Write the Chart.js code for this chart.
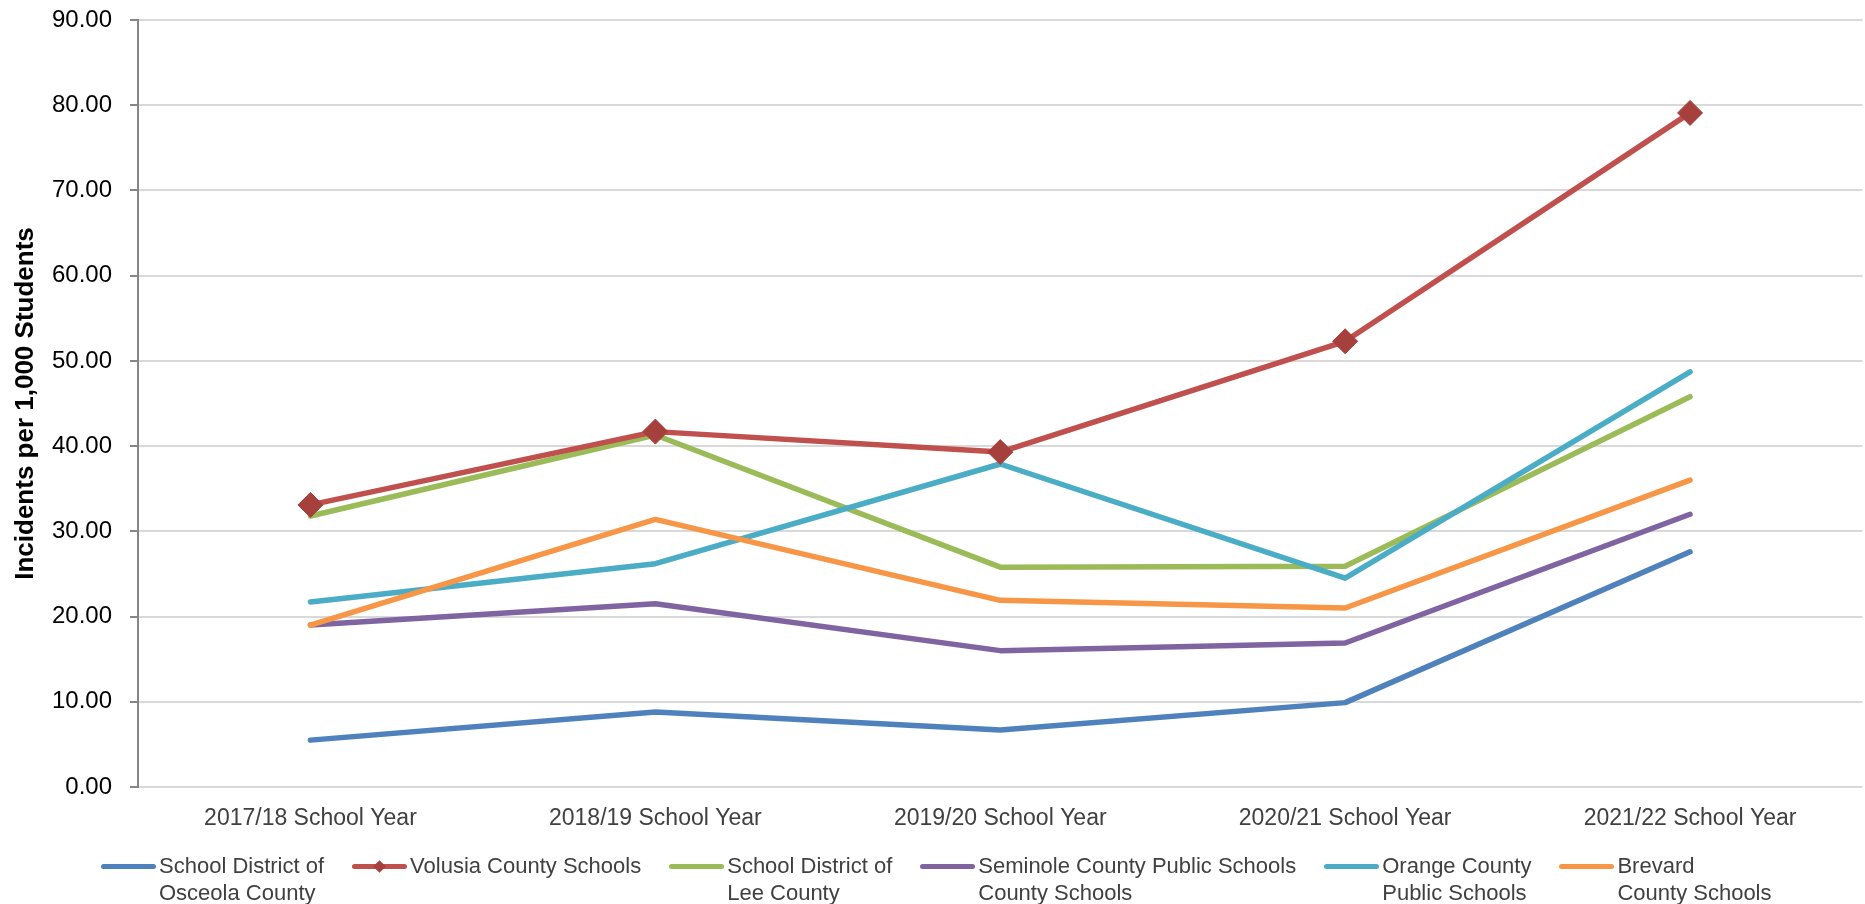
<!DOCTYPE html>
<html>
<head>
    <title>Incidents per 1,000 Students</title>
    <meta charset="utf-8">
    <script src="https://cdn.jsdelivr.net/npm/chart.js"></script>
    <style>
        body { margin: 0; background: #fff; overflow: hidden; }
        #wrap { position: relative; width: 1865px; height: 904px; overflow: hidden; }
        #legend {
            position: absolute; left: 101px; top: 852px;
            display: flex; align-items: flex-start; gap: 28px;
            font-family: "Liberation Sans", Arial, sans-serif;
            font-size: 22px; line-height: 27px; color: #404040;
        }
        .item { display: flex; align-items: flex-start; }
        .mark { position: relative; width: 55px; height: 27px; margin-right: 3px; }
        .mark .ln { position: absolute; left: 0; right: 0; top: 12px; height: 5px; border-radius: 3px; }
        .mark .dm { position: absolute; left: 23px; top: 10px; width: 9px; height: 9px; transform: rotate(45deg); }
    </style>
</head>
<body>
<div id="wrap">
    <canvas id="myChart" width="1876" height="904"></canvas>
    <div id="legend"></div>
</div>
<script>
    var years = ['2017/18 School Year', '2018/19 School Year', '2019/20 School Year',
                 '2020/21 School Year', '2021/22 School Year'];

    var osceola  = [5.5, 8.8, 6.7, 9.9, 27.6];
    var volusia  = [33.1, 41.7, 39.3, 52.3, 79.1];
    var lee      = [31.8, 41.3, 25.8, 25.9, 45.8];
    var seminole = [19.0, 21.5, 16.0, 16.9, 32.0];
    var orange   = [21.7, 26.2, 37.9, 24.5, 48.7];
    var brevard  = [19.0, 31.4, 21.9, 21.0, 36.0];

    var names = [
        ['School District of', 'Osceola County'],
        ['Volusia County Schools'],
        ['School District of', 'Lee County'],
        ['Seminole County Public Schools', 'County Schools'],
        ['Orange County', 'Public Schools'],
        ['Brevard', 'County Schools']
    ];

    var yTicks = [0, 10, 20, 30, 40, 50, 60, 70, 80, 90];

    var colors = ['#4F81BD', '#C0504D', '#9BBB59', '#8064A2', '#4BACC6', '#F79646'];
    var series = [osceola, volusia, lee, seminole, orange, brevard];
    var markerColor = '#A5403D';

    var font = "'Liberation Sans', Arial, sans-serif";

    var datasets = [];
    for (var i = 0; i < series.length; i++) {
        var hasMarker = (i == 1);
        datasets.push({
            label: names[i].join(' '),
            data: series[i],
            borderColor: colors[i],
            backgroundColor: colors[i],
            borderWidth: 5.5,
            borderCapStyle: 'round',
            borderJoinStyle: 'round',
            tension: 0,
            pointStyle: 'rectRot',
            pointRadius: hasMarker ? 12.5 : 0,
            pointHoverRadius: hasMarker ? 12.5 : 0,
            pointBackgroundColor: markerColor,
            pointBorderColor: markerColor,
            pointBorderWidth: 1,
            order: hasMarker ? -1 : series.length - i
        });
    }

    var myChart = new Chart(document.getElementById('myChart'), {
        type: 'line',
        data: { labels: years, datasets: datasets },
        options: {
            responsive: false,
            animation: false,
            devicePixelRatio: 1,
            layout: { padding: { top: 20, right: 0, left: 0, bottom: 67 } },
            plugins: { legend: { display: false }, tooltip: { enabled: false } },
            scales: {
                x: {
                    offset: true,
                    grid: { display: false },
                    border: { display: false },
                    ticks: {
                        padding: 10,
                        maxRotation: 0,
                        color: '#404040',
                        font: { family: font, size: 23 }
                    },
                    afterFit: function(s) {
                        s.height = 50;
                        s.paddingLeft = 0; s.paddingRight = 0;
                    }
                },
                y: {
                    min: 0,
                    max: 90,
                    afterBuildTicks: function(s) {
                        s.ticks = yTicks.map(function(v) { return { value: v }; });
                    },
                    grid: {
                        color: '#D9D9D9',
                        lineWidth: 2,
                        tickColor: '#868686',
                        tickLength: 8
                    },
                    border: { color: '#868686', width: 2 },
                    ticks: {
                        padding: 18,
                        color: '#000',
                        font: { family: font, size: 24 },
                        callback: function(v) { return Number(v).toFixed(2); }
                    },
                    title: {
                        display: true,
                        text: 'Incidents per 1,000 Students',
                        color: '#000',
                        padding: { top: 10, bottom: 0 },
                        font: { family: font, size: 26, weight: 'bold' }
                    },
                    afterFit: function(s) {
                        s.width = 138;
                        s.paddingTop = 0; s.paddingBottom = 0;
                    }
                }
            }
        }
    });

    // legend with wrapped labels, built from the datasets
    var legend = document.getElementById('legend');
    datasets.forEach(function(ds, i) {
        var item = document.createElement('div');
        item.className = 'item';
        var mark = '<div class="mark"><div class="ln" style="background:' + colors[i] + '"></div>';
        if (ds.pointRadius > 0) {
            mark += '<div class="dm" style="background:' + markerColor + '"></div>';
        }
        mark += '</div>';
        item.innerHTML = mark + '<div class="txt">' + names[i].join('<br>') + '</div>';
        legend.appendChild(item);
    });
</script>
</body>
</html>
